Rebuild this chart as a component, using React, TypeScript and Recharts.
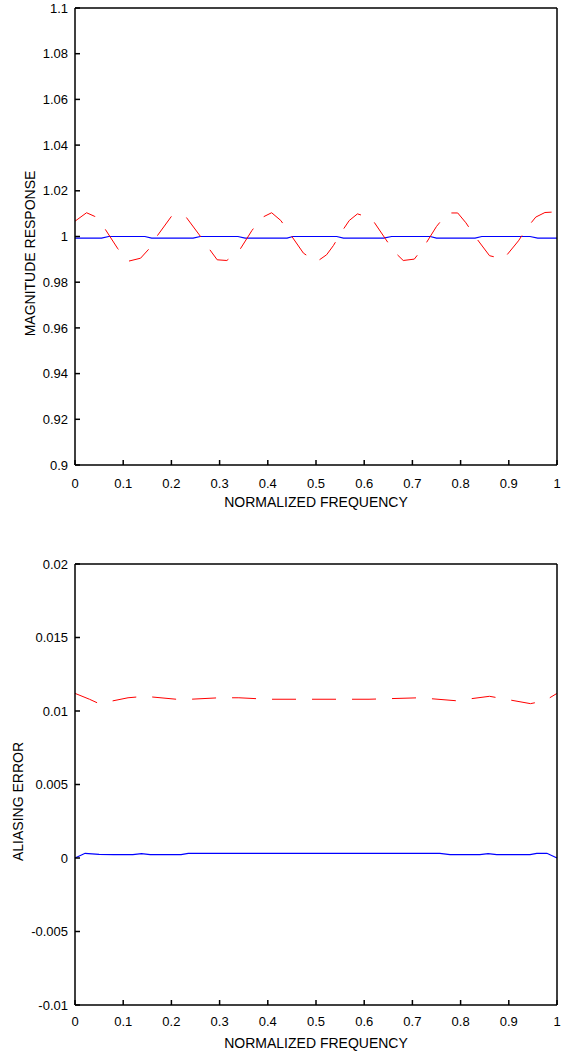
import { Line, LineChart, XAxis, YAxis } from "recharts";

// normalized frequency ticks (shared by both panels)
const freqTicks = [0, 0.1, 0.2, 0.3, 0.4, 0.5, 0.6, 0.7, 0.8, 0.9, 1];

// top panel: magnitude response
const magTicks = [0.9, 0.92, 0.94, 0.96, 0.98, 1, 1.02, 1.04, 1.06, 1.08, 1.1];
const magSolidF = [0, 0.055, 0.07, 0.145, 0.159, 0.245, 0.26, 0.338, 0.353, 0.44, 0.452, 0.543, 0.557, 0.64, 0.657, 0.737, 0.75, 0.83, 0.844, 0.944, 0.96, 1];
const magSolidV = [0.9993, 0.9993, 1.0, 1.0, 0.9993, 0.9993, 1.0, 1.0, 0.9993, 0.9993, 1.0, 1.0, 0.9993, 0.9993, 1.0, 1.0, 0.9993, 0.9993, 1.0, 1.0, 0.9993, 0.9993];
const magDashF = [0, 0.024, 0.041, 0.062, 0.089, 0.111, 0.136, 0.152, 0.171, 0.2, 0.228, 0.258, 0.277, 0.295, 0.315, 0.341, 0.367, 0.387, 0.408, 0.427, 0.446, 0.474, 0.501, 0.522, 0.536, 0.553, 0.569, 0.586, 0.615, 0.643, 0.662, 0.681, 0.704, 0.724, 0.75, 0.773, 0.794, 0.811, 0.83, 0.86, 0.889, 0.92, 0.939, 0.956, 0.975, 1];
const magDashV = [1.0067, 1.0104, 1.0088, 1.0034, 0.9946, 0.9892, 0.9905, 0.9942, 1.0004, 1.0088, 1.0092, 1.0007, 0.995, 0.9898, 0.9895, 0.9939, 1.0026, 1.0082, 1.0104, 1.007, 1.0012, 0.9927, 0.9889, 0.992, 0.996, 1.002, 1.007, 1.0099, 1.008, 0.9993, 0.9934, 0.9895, 0.9901, 0.9956, 1.0044, 1.0103, 1.0103, 1.006, 1.0, 0.9916, 0.9901, 0.9981, 1.0041, 1.0085, 1.0105, 1.0108];

// bottom panel: aliasing error
const aliasTicks = [-0.01, -0.005, 0, 0.005, 0.01, 0.015, 0.02];
const aliasSolidF = [0, 0.021, 0.05, 0.08, 0.12, 0.138, 0.156, 0.22, 0.235, 0.757, 0.778, 0.84, 0.857, 0.875, 0.944, 0.958, 0.979, 1];
const aliasSolidV = [0, 0.00032, 0.00025, 0.00023, 0.00023, 0.0003, 0.00023, 0.00023, 0.00032, 0.00032, 0.00023, 0.00023, 0.0003, 0.00023, 0.00023, 0.00032, 0.00032, 0];
const aliasDashF = [0, 0.03, 0.05, 0.11, 0.145, 0.21, 0.24, 0.3, 0.34, 0.4, 0.5, 0.61, 0.715, 0.79, 0.86, 0.945, 0.975, 1];
const aliasDashV = [0.0112, 0.0108, 0.0105, 0.0109, 0.011, 0.0108, 0.0108, 0.0109, 0.0109, 0.0108, 0.0108, 0.0108, 0.0109, 0.0107, 0.011, 0.0105, 0.0107, 0.0112];

const FONT = "'Liberation Sans', Arial, sans-serif";
const tickStyle = { fill: "#000", fontSize: 13, fontFamily: FONT };
const fmt = (v: number) => String(+v.toFixed(4));

const toRows = (f: number[], v: number[]) => f.map((x, i) => ({ f: x, v: v[i] }));

// rotated y title, sitting a bit below the middle of the axis like the original
function yTitle(text: string, cx: number) {
  return (props: any) => {
    const vb = props.viewBox || {};
    const cy = (vb.y ?? 0) + (vb.height ?? 0) / 2 + 17;
    return (
      <text
        x={cx}
        y={cy}
        transform={`rotate(-90 ${cx} ${cy})`}
        textAnchor="middle"
        dominantBaseline="central"
        fill="#000"
        fontSize={14}
        fontFamily={FONT}
      >
        {text}
      </text>
    );
  };
}

type PanelProps = {
  height: number;
  top: number;
  bottom: number;
  xTickMargin: number;
  titleOffset: number;
  yTicks: number[];
  yLabel: string;
  yLabelX: number;
  solid: { f: number; v: number }[];
  dashed: { f: number; v: number }[];
};

function Panel({ height, top, bottom, xTickMargin, titleOffset, yTicks, yLabel, yLabelX, solid, dashed }: PanelProps) {
  const domain: [number, number] = [yTicks[0], yTicks[yTicks.length - 1]];
  return (
    <LineChart width={563} height={height} margin={{ top: top - 1, right: 5, left: 0, bottom }}>
      <XAxis
        xAxisId="b"
        dataKey="f"
        type="number"
        domain={[0, 1]}
        ticks={freqTicks}
        interval={0}
        tickFormatter={fmt}
        height={45}
        tickSize={-5}
        tickMargin={xTickMargin}
        stroke="#000"
        strokeWidth={1.5}
        tick={tickStyle}
        label={{ value: "NORMALIZED FREQUENCY", position: "insideBottom", offset: titleOffset, fill: "#000", fontSize: 14, fontFamily: FONT }}
      />
      <XAxis
        xAxisId="t"
        orientation="top"
        dataKey="f"
        type="number"
        domain={[0, 1]}
        ticks={freqTicks}
        interval={0}
        height={1}
        tickSize={-5}
        tick={false}
        stroke="#000"
        strokeWidth={1.5}
      />
      <YAxis
        yAxisId="l"
        type="number"
        domain={domain}
        ticks={yTicks}
        interval={0}
        tickFormatter={fmt}
        width={75}
        tickSize={-5}
        tickMargin={12}
        stroke="#000"
        strokeWidth={1.5}
        tick={tickStyle}
        label={{ content: yTitle(yLabel, yLabelX) }}
      />
      <YAxis
        yAxisId="r"
        orientation="right"
        type="number"
        domain={domain}
        ticks={yTicks}
        interval={0}
        width={1}
        tickSize={-5}
        tick={false}
        stroke="#000"
        strokeWidth={1.5}
      />
      <Line
        xAxisId="b"
        yAxisId="l"
        data={solid}
        dataKey="v"
        type="linear"
        stroke="#0000ff"
        strokeWidth={1.2}
        dot={false}
        isAnimationActive={false}
      />
      <Line
        xAxisId="t"
        yAxisId="r"
        data={dashed}
        dataKey="v"
        type="linear"
        stroke="#ff0000"
        strokeWidth={1}
        strokeDasharray="24 16"
        dot={false}
        isAnimationActive={false}
      />
    </LineChart>
  );
}

export default function App() {
  return (
    <div style={{ position: "absolute", left: 0, top: 0, width: 563, height: 1053, background: "#fff", fontFamily: FONT }}>
      <Panel
        height={525}
        top={8}
        bottom={15}
        xTickMargin={18.5}
        titleOffset={3.3}
        yTicks={magTicks}
        yLabel="MAGNITUDE RESPONSE"
        yLabelX={30}
        solid={toRows(magSolidF, magSolidV)}
        dashed={toRows(magDashF, magDashV)}
      />
      <Panel
        height={528}
        top={39}
        bottom={3}
        xTickMargin={16.5}
        titleOffset={2.3}
        yTicks={aliasTicks}
        yLabel="ALIASING ERROR"
        yLabelX={18}
        solid={toRows(aliasSolidF, aliasSolidV)}
        dashed={toRows(aliasDashF, aliasDashV)}
      />
    </div>
  );
}
